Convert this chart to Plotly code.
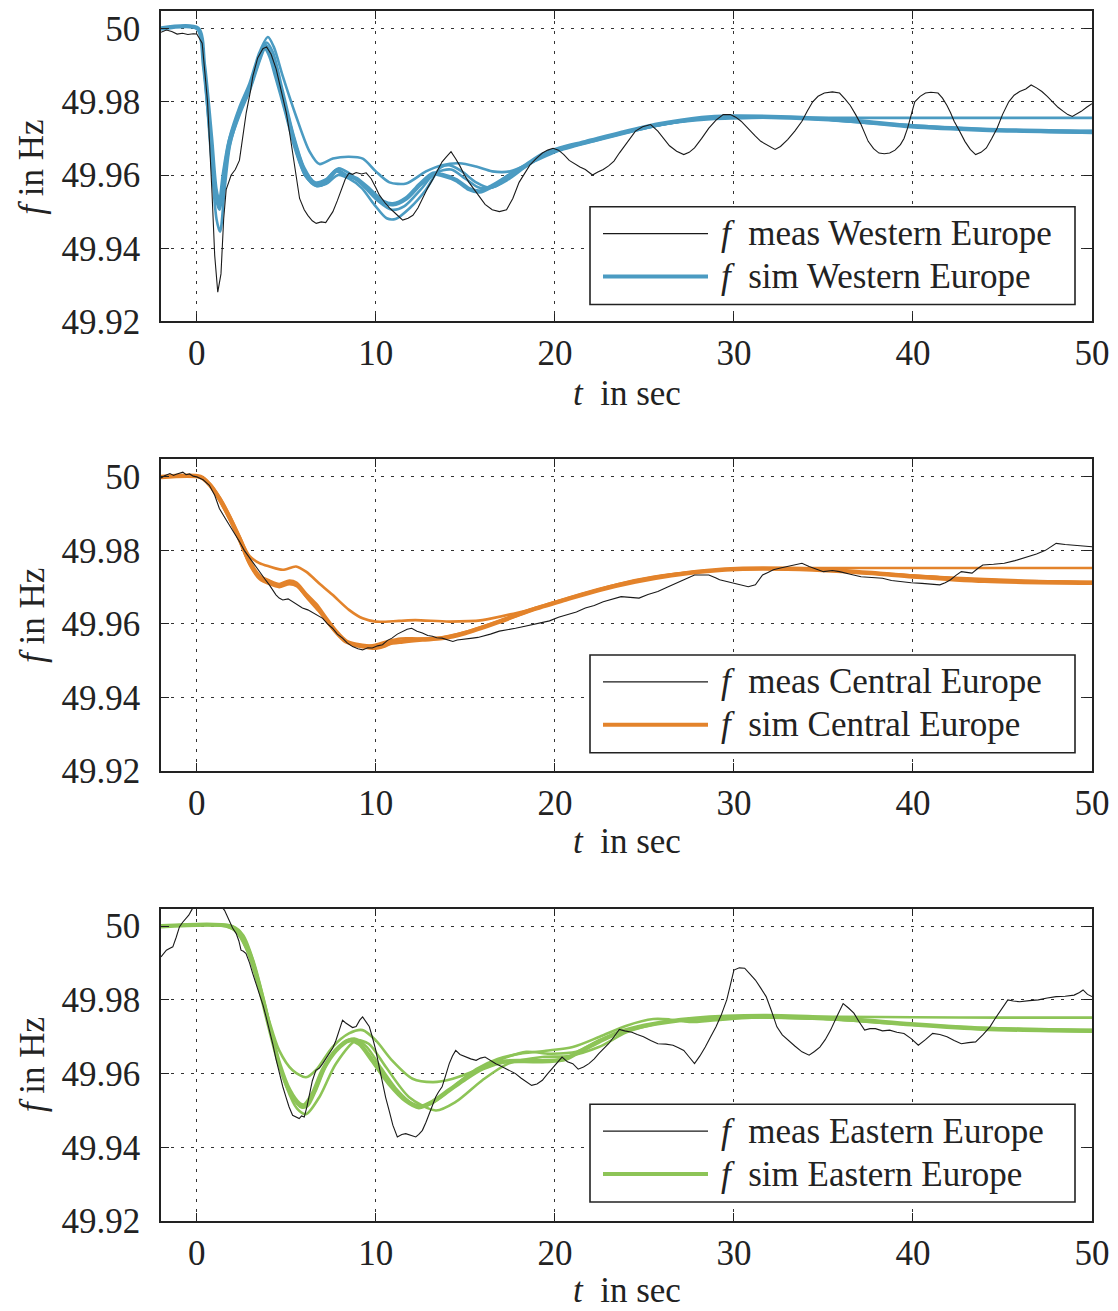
import plotly.graph_objects as go

# ---------------- data ----------------
x_ticks = [0, 10, 20, 30, 40, 50]
y_ticks = [49.92, 49.94, 49.96, 49.98, 50.0]
y_tick_labels = ["49.92", "49.94", "49.96", "49.98", "50"]

regions = ["Western Europe", "Central Europe", "Eastern Europe"]
sim_colors = ["#4b9bc2", "#e3832b", "#8dc457"]

# Western Europe measured
t_meas_w = [-2.0, -1.7, -1.4, -1.1, -0.8, -0.5, -0.2, 0.0, 0.3, 0.6, 0.85, 1.0, 1.17, 1.35, 1.5, 1.64, 1.92, 2.15,
            2.38, 2.6, 2.76, 3.0, 3.13, 3.4, 3.69, 3.9, 4.15, 4.43, 4.7, 5.0, 5.2, 5.36, 5.55, 5.74, 6.0, 6.2, 6.45,
            6.67, 6.95, 7.2, 7.4, 7.6, 7.85, 8.06, 8.3, 8.5, 8.7, 8.9, 9.2, 9.46, 9.74, 10.0, 10.2, 10.5, 10.76, 11.1,
            11.5, 11.8, 12.07, 12.35, 12.6, 12.9, 13.2, 13.45, 13.7, 13.95, 14.2, 14.45, 14.67, 14.95, 15.2, 15.5,
            15.8, 16.1, 16.5, 16.9, 17.3, 17.65, 18.0, 18.3, 18.6, 18.95, 19.3, 19.6, 19.9, 20.2, 20.5, 20.8, 21.1,
            21.4, 21.7, 22.1, 22.4, 22.7, 23.0, 23.3, 23.6, 23.9, 24.2, 24.5, 24.9, 25.35, 25.75, 26.1, 26.4, 26.8,
            27.2, 27.5, 27.8, 28.2, 28.6, 29.0, 29.4, 29.8, 30.1, 30.4, 30.8, 31.2, 31.5, 31.8, 32.3, 32.6, 33.0,
            33.4, 33.8, 34.1, 34.4, 34.7, 35.05, 35.5, 35.9, 36.2, 36.5, 36.8, 37.1, 37.5, 37.8, 38.1, 38.4, 38.7,
            39.0, 39.3, 39.5, 39.7, 39.9, 40.1, 40.4, 40.7, 41.0, 41.4, 41.65, 41.9, 42.1, 42.3, 42.6, 42.9, 43.2,
            43.5, 43.8, 44.1, 44.4, 44.7, 45.0, 45.35, 45.65, 45.96, 46.3, 46.6, 46.9, 47.2, 47.5, 47.8, 48.1, 48.4,
            48.65, 48.9, 49.15, 49.4, 49.7, 50.0]
f_meas_w = [49.9990, 49.9996, 49.9992, 49.9985, 49.9987, 49.9984, 49.9986, 49.9985, 49.9960, 49.9800, 49.9550,
            49.9380, 49.9280, 49.9330, 49.9480, 49.9560, 49.9600, 49.9615, 49.9640, 49.9720, 49.9770, 49.9830,
            49.9870, 49.9920, 49.9945, 49.9950, 49.9930, 49.9890, 49.9830, 49.9770, 49.9710, 49.9660, 49.9590,
            49.9536, 49.9505, 49.9490, 49.9475, 49.9468, 49.9472, 49.9470, 49.9485, 49.9500, 49.9530, 49.9560,
            49.9590, 49.9605, 49.9602, 49.9607, 49.9603, 49.9606, 49.9590, 49.9565, 49.9545, 49.9525, 49.9510,
            49.9495, 49.9477, 49.9482, 49.9490, 49.9510, 49.9536, 49.9565, 49.9590, 49.9615, 49.9636, 49.9650,
            49.9664, 49.9645, 49.9627, 49.9600, 49.9580, 49.9560, 49.9540, 49.9520, 49.9505, 49.9500, 49.9505,
            49.9536, 49.9580, 49.9605, 49.9627, 49.9645, 49.9660, 49.9668, 49.9673, 49.9668, 49.9656, 49.9640,
            49.9630, 49.9622, 49.9615, 49.9600, 49.9608, 49.9615, 49.9625, 49.9638, 49.9660, 49.9680, 49.9700,
            49.9720, 49.9732, 49.9738, 49.9720, 49.9698, 49.9680, 49.9665, 49.9656, 49.9662, 49.9674, 49.9700,
            49.9728, 49.9750, 49.9765, 49.9765, 49.9758, 49.9747, 49.9725, 49.9706, 49.9692, 49.9683, 49.9670,
            49.9678, 49.9697, 49.9720, 49.9747, 49.9775, 49.9800, 49.9815, 49.9824, 49.9827, 49.9824, 49.9808,
            49.9790, 49.9765, 49.9738, 49.9692, 49.9672, 49.9660, 49.9658, 49.9660, 49.9668, 49.9683, 49.9700,
            49.9728, 49.9765, 49.9800, 49.9815, 49.9824, 49.9826, 49.9824, 49.9810, 49.9790, 49.9770, 49.9747,
            49.9720, 49.9692, 49.9670, 49.9656, 49.9662, 49.9674, 49.9700, 49.9728, 49.9765, 49.9800, 49.9818,
            49.9828, 49.9835, 49.9846, 49.9838, 49.9828, 49.9815, 49.9800, 49.9785, 49.9774, 49.9765, 49.9760,
            49.9766, 49.9774, 49.9785, 49.9795]

# Western Europe simulated variants
t_sim_w1 = [-2, 0.05, 0.4, 0.8, 1.05, 1.27, 1.5, 1.82, 2.38, 2.94, 3.5, 3.8, 4.1, 4.43, 5.0, 5.55, 6.1, 6.67, 7.2,
            7.8, 8.34, 8.9, 9.65, 10.4, 10.95, 11.7, 12.44, 13.2, 13.7, 14.5, 15.2, 15.8, 16.5, 17.5, 18.4, 19.3,
            20.3, 21.7, 23.7, 25.75, 28.2, 29.8, 33.8, 36.9, 39.9, 43.9, 50]
f_sim_w1 = [50.0, 50.0, 49.9900, 49.9700, 49.9560, 49.9518, 49.9600, 49.9690, 49.9770, 49.9836, 49.9918, 49.9950,
            49.9925, 49.9870, 49.9770, 49.9670, 49.9600, 49.9573, 49.9580, 49.9612, 49.9598, 49.9590, 49.9560,
            49.9527, 49.9520, 49.9536, 49.9573, 49.9604, 49.9600, 49.9586, 49.9562, 49.9555, 49.9570, 49.9600,
            49.9627, 49.9655, 49.9673, 49.9690, 49.9715, 49.9738, 49.9756, 49.9760, 49.9756, 49.9747, 49.9733,
            49.9724, 49.9718]
t_sim_w2 = [-2, 0.05, 0.4, 0.8, 1.05, 1.27, 1.5, 1.82, 2.38, 2.94, 3.5, 3.97, 4.3, 4.8, 5.55, 6.3, 6.85, 7.6, 8.5,
            9.27, 10.0, 10.76, 11.7, 12.8, 13.7, 14.67, 15.6, 16.5, 17.5, 18.8, 20.1, 22, 24, 26, 28.5, 31, 35, 40,
            45, 50]
f_sim_w2 = [50.0, 50.0, 49.9900, 49.9700, 49.9565, 49.9522, 49.9605, 49.9700, 49.9785, 49.9850, 49.9935, 49.9977,
            49.9950, 49.9870, 49.9760, 49.9664, 49.9630, 49.9645, 49.9650, 49.9645, 49.9610, 49.9580, 49.9577,
            49.9610, 49.9627, 49.9632, 49.9623, 49.9610, 49.9610, 49.9636, 49.9664, 49.9690, 49.9715, 49.9738,
            49.9752, 49.9756, 49.9756, 49.9756, 49.9756, 49.9756]
t_sim_w3 = [-2, 0.05, 0.4, 0.8, 1.1, 1.3, 1.55, 1.85, 2.38, 2.94, 3.5, 3.85, 4.15, 4.5, 5.0, 5.55, 6.1, 6.67, 7.2,
            7.9, 8.5, 9.2, 9.9, 10.6, 11.1, 11.9, 12.8, 13.6, 14.1, 14.8, 15.6, 16.4, 17.3, 18.3, 19.3, 20.3, 22,
            24, 26, 28.5, 31, 35, 38, 42, 46, 50]
f_sim_w3 = [50.0, 50.0, 49.9890, 49.9650, 49.9480, 49.9445, 49.9560, 49.9680, 49.9768, 49.9832, 49.9915, 49.9955,
            49.9930, 49.9860, 49.9765, 49.9665, 49.9595, 49.9570, 49.9575, 49.9600, 49.9590, 49.9565, 49.9520,
            49.9482, 49.9480, 49.9510, 49.9560, 49.9620, 49.9627, 49.9610, 49.9580, 49.9565, 49.9585, 49.9620,
            49.9652, 49.9670, 49.9692, 49.9718, 49.9738, 49.9756, 49.9760, 49.9752, 49.9740, 49.9727, 49.9720,
            49.9715]
t_sim_w4 = [-2, 0.05, 0.4, 0.8, 1.05, 1.27, 1.5, 1.82, 2.38, 2.94, 3.5, 3.9, 4.25, 4.8, 5.4, 6.0, 6.6, 7.2, 7.9,
            8.5, 9.3, 10.1, 10.9, 11.6, 12.5, 13.3, 14.2, 15.0, 15.8, 16.6, 17.5, 18.5, 19.5, 21, 23, 25, 27.5, 30,
            34, 38, 42, 46, 50]
f_sim_w4 = [50.0, 50.0, 49.9895, 49.9680, 49.9540, 49.9505, 49.9590, 49.9690, 49.9772, 49.9840, 49.9925, 49.9962,
            49.9935, 49.9830, 49.9710, 49.9620, 49.9580, 49.9588, 49.9618, 49.9605, 49.9570, 49.9530, 49.9505,
            49.9515, 49.9560, 49.9605, 49.9615, 49.9590, 49.9565, 49.9568, 49.9595, 49.9630, 49.9658, 49.9682,
            49.9706, 49.9728, 49.9750, 49.9758, 49.9755, 49.9742, 49.9730, 49.9722, 49.9720]

# Central Europe measured
t_meas_c = [-2.0, -1.8, -1.5, -1.3, -1.15, -0.95, -0.78, -0.6, -0.4, -0.2, 0.0, 0.35, 0.7, 1.0, 1.26, 1.55, 1.82,
            2.1, 2.38, 2.65, 2.94, 3.2, 3.5, 3.8, 4.05, 4.25, 4.42, 4.6, 4.8, 5.1, 5.35, 5.6, 5.9, 6.2, 6.47, 6.75,
            7.03, 7.3, 7.58, 7.85, 8.14, 8.4, 8.7, 9.0, 9.26, 9.55, 9.8, 10.1, 10.37, 10.65, 10.9, 11.2, 11.5,
            11.75, 12.0, 12.3, 12.6, 12.9, 13.16, 13.4, 13.7, 14.0, 14.3, 14.55, 14.8, 15.1, 15.4, 15.7, 15.95,
            16.4, 16.9, 17.3, 17.8, 18.2, 18.7, 19.2, 19.7, 20.2, 20.7, 21.2, 21.7, 22.2, 22.7, 23.2, 23.7, 24.2,
            24.7, 25.2, 25.75, 26.3, 26.8, 27.3, 27.8, 28.2, 28.6, 29.0, 29.2, 29.6, 30.0, 30.4, 30.8, 31.2, 31.6,
            31.9, 32.2, 32.6, 33.0, 33.4, 33.8, 34.2, 34.6, 35.0, 35.5, 35.9, 36.5, 37.1, 37.7, 38.3, 38.8, 39.3,
            39.9, 40.5, 41.0, 41.5, 41.8, 42.1, 42.4, 42.7, 43.0, 43.3, 43.6, 43.9, 44.5, 45.1, 45.7, 46.4, 46.9,
            47.4, 47.7, 48.0, 48.5, 49.0, 49.5, 50.0]
f_meas_c = [49.9997, 50.0003, 50.0009, 50.0004, 50.0007, 50.0010, 50.0013, 50.0006, 50.0008, 50.0002, 50.0000,
            49.9992, 49.9977, 49.9950, 49.9914, 49.9890, 49.9869, 49.9845, 49.9824, 49.9800, 49.9780, 49.9760,
            49.9742, 49.9722, 49.9706, 49.9690, 49.9679, 49.9670, 49.9665, 49.9668, 49.9660, 49.9652, 49.9643,
            49.9638, 49.9630, 49.9622, 49.9615, 49.9600, 49.9588, 49.9572, 49.9561, 49.9548, 49.9538, 49.9532,
            49.9529, 49.9535, 49.9534, 49.9540, 49.9543, 49.9555, 49.9561, 49.9572, 49.9580, 49.9585, 49.9588,
            49.9580, 49.9575, 49.9568, 49.9566, 49.9562, 49.9561, 49.9556, 49.9552, 49.9556, 49.9557, 49.9558,
            49.9561, 49.9563, 49.9566, 49.9572, 49.9580, 49.9583, 49.9588, 49.9592, 49.9597, 49.9602, 49.9608,
            49.9618, 49.9626, 49.9632, 49.9643, 49.9650, 49.9660, 49.9668, 49.9674, 49.9672, 49.9670, 49.9680,
            49.9688, 49.9700, 49.9710, 49.9722, 49.9733, 49.9732, 49.9733, 49.9725, 49.9720, 49.9715, 49.9710,
            49.9705, 49.9701, 49.9706, 49.9733, 49.9740, 49.9747, 49.9752, 49.9756, 49.9760, 49.9765, 49.9756,
            49.9748, 49.9742, 49.9745, 49.9742, 49.9735, 49.9728, 49.9726, 49.9724, 49.9718, 49.9715, 49.9712,
            49.9710, 49.9708, 49.9706, 49.9712, 49.9720, 49.9732, 49.9742, 49.9740, 49.9738, 49.9750, 49.9760,
            49.9762, 49.9765, 49.9772, 49.9783, 49.9790, 49.9800, 49.9810, 49.9819, 49.9816, 49.9814, 49.9812,
            49.9810]

# Central Europe simulated variants
t_sim_c1 = [-2, 0.2, 0.7, 1.26, 1.82, 2.38, 2.94, 3.5, 4.05, 4.6, 5.17, 5.54, 6.1, 6.65, 7.2, 7.77, 8.33, 8.9, 9.6,
            10.2, 10.7, 11.5, 12.6, 13.7, 15, 16.9, 18.7, 20.6, 22.45, 24.5, 26.5, 28.5, 30.5, 33, 36, 38, 40, 44,
            50]
f_sim_c1 = [50.0, 50.0, 49.9980, 49.9941, 49.9891, 49.9833, 49.9769, 49.9729, 49.9715, 49.9706, 49.9715, 49.9710,
            49.9679, 49.9652, 49.9615, 49.9579, 49.9552, 49.9543, 49.9538, 49.9538, 49.9547, 49.9552, 49.9557,
            49.9561, 49.9575, 49.9606, 49.9638, 49.9666, 49.9692, 49.9715, 49.9732, 49.9744, 49.9750, 49.9750,
            49.9744, 49.9737, 49.9729, 49.9717, 49.9712]
t_sim_c2 = [-2, 0.2, 0.7, 1.26, 1.82, 2.38, 2.94, 3.5, 4.05, 4.8, 5.54, 6.1, 6.84, 7.58, 8.5, 9.26, 10.0, 11.3,
            12.2, 14.1, 15.95, 17.8, 19.7, 21.5, 23.5, 25.5, 28, 31, 35, 40, 45, 50]
f_sim_c2 = [50.0, 50.0, 49.9982, 49.9945, 49.9895, 49.9838, 49.9785, 49.9765, 49.9756, 49.9747, 49.9756, 49.9742,
            49.9710, 49.9679, 49.9638, 49.9615, 49.9606, 49.9608, 49.9610, 49.9606, 49.9610, 49.9629, 49.9652,
            49.9680, 49.9708, 49.9728, 49.9742, 49.9750, 49.9752, 49.9752, 49.9752, 49.9752]
t_sim_c3 = [-2, 0.2, 0.7, 1.26, 1.82, 2.38, 2.94, 3.5, 4.05, 4.6, 5.17, 5.6, 6.2, 6.8, 7.4, 8.0, 8.6, 9.3, 10.0,
            10.5, 11.0, 11.8, 12.8, 14.0, 15.5, 17.3, 19.2, 21, 23, 25, 27, 29, 32, 35, 38, 42, 46, 50]
f_sim_c3 = [50.0, 50.0, 49.9978, 49.9937, 49.9885, 49.9826, 49.9762, 49.9722, 49.9708, 49.9700, 49.9708, 49.9702,
            49.9668, 49.9635, 49.9598, 49.9565, 49.9545, 49.9536, 49.9532, 49.9538, 49.9550, 49.9555, 49.9558,
            49.9563, 49.9582, 49.9612, 49.9645, 49.9672, 49.9698, 49.9720, 49.9736, 49.9746, 49.9750, 49.9746,
            49.9738, 49.9726, 49.9718, 49.9714]
t_sim_c4 = [-2, 0.2, 0.7, 1.26, 1.82, 2.38, 2.94, 3.5, 4.05, 4.6, 5.2, 5.6, 6.1, 6.7, 7.3, 7.9, 8.5, 9.2, 9.9,
            10.6, 11.4, 12.4, 13.6, 15, 16.9, 18.7, 20.6, 22.5, 24.5, 26.5, 28.5, 31, 34, 37, 40, 44, 50]
f_sim_c4 = [50.0, 50.0, 49.9979, 49.9939, 49.9888, 49.9830, 49.9766, 49.9726, 49.9712, 49.9703, 49.9712, 49.9706,
            49.9676, 49.9645, 49.9605, 49.9570, 49.9548, 49.9540, 49.9542, 49.9552, 49.9560, 49.9560, 49.9562,
            49.9578, 49.9608, 49.9640, 49.9668, 49.9694, 49.9716, 49.9734, 49.9745, 49.9750, 49.9748, 49.9740,
            49.9731, 49.9720, 49.9713]

# Eastern Europe measured
t_meas_e = [-2.0, -1.85, -1.7, -1.5, -1.34, -1.15, -0.97, -0.8, -0.6, -0.45, -0.3, -0.1, 0.2, 0.6, 1.0, 1.3,
            1.55, 1.82, 2.0, 2.2, 2.35, 2.47, 2.6, 2.75, 2.95, 3.12, 3.3, 3.5, 3.7, 3.87, 4.05, 4.24, 4.42, 4.6, 4.8,
            4.98, 5.15, 5.35, 5.55, 5.72, 5.85, 6.0, 6.15, 6.28, 6.45, 6.65, 6.85, 7.03, 7.2, 7.4, 7.6, 7.77, 7.95,
            8.14, 8.3, 8.5, 8.7, 8.9, 9.1, 9.26, 9.45, 9.63, 9.8, 10.0, 10.2, 10.37, 10.55, 10.74, 10.95, 11.2,
            11.45, 11.67, 11.95, 12.23, 12.4, 12.6, 12.8, 12.97, 13.15, 13.35, 13.5, 13.7, 13.9, 14.1, 14.28, 14.46,
            14.7, 15.0, 15.3, 15.6, 15.85, 16.1, 16.4, 16.7, 17.0, 17.25, 17.5, 17.8, 18.1, 18.4, 18.7, 19.0, 19.3,
            19.6, 19.85, 20.1, 20.4, 20.7, 21.0, 21.3, 21.6, 21.9, 22.2, 22.45, 22.75, 23.0, 23.3, 23.6, 23.9,
            24.3, 24.6, 24.95, 25.35, 25.75, 26.2, 26.6, 26.9, 27.2, 27.5, 27.8, 28.1, 28.4, 28.7, 29.0, 29.3,
            29.6, 29.8, 30.0, 30.3, 30.6, 30.9, 31.2, 31.5, 31.8, 32.1, 32.4, 32.7, 33.0, 33.4, 33.8, 34.2, 34.5,
            34.8, 35.1, 35.4, 35.75, 36.1, 36.4, 36.7, 37.0, 37.3, 37.6, 37.9, 38.3, 38.7, 39.1, 39.5, 39.9, 40.3,
            40.7, 41.1, 41.5, 41.9, 42.3, 42.7, 43.1, 43.5, 43.9, 44.3, 44.6, 44.9, 45.3, 45.6, 45.96, 46.5, 47.0,
            47.5, 48.0, 48.5, 49.0, 49.3, 49.5, 49.75, 50.0]
f_meas_e = [49.9917, 49.9925, 49.9935, 49.9940, 49.9944, 49.9970, 49.9998, 50.0010, 50.0020, 50.0030, 50.0043,
            50.0060, 50.0072, 50.0078, 50.0070, 50.0058, 50.0043, 50.0016, 49.9995, 49.9980, 49.9960, 49.9935,
            49.9932, 49.9926, 49.9900, 49.9872, 49.9845, 49.9817, 49.9785, 49.9754, 49.9720, 49.9681, 49.9640,
            49.9600, 49.9565, 49.9536, 49.9510, 49.9487, 49.9482, 49.9478, 49.9485, 49.9482, 49.9510, 49.9545,
            49.9580, 49.9609, 49.9615, 49.9627, 49.9640, 49.9654, 49.9670, 49.9690, 49.9720, 49.9745, 49.9738,
            49.9731, 49.9725, 49.9728, 49.9745, 49.9754, 49.9740, 49.9728, 49.9700, 49.9663, 49.9615, 49.9573,
            49.9535, 49.9500, 49.9460, 49.9428, 49.9435, 49.9437, 49.9432, 49.9428, 49.9435, 49.9446, 49.9468,
            49.9491, 49.9515, 49.9537, 49.9550, 49.9564, 49.9595, 49.9627, 49.9648, 49.9663, 49.9652, 49.9645,
            49.9640, 49.9636, 49.9642, 49.9645, 49.9635, 49.9627, 49.9620, 49.9614, 49.9608, 49.9600, 49.9588,
            49.9577, 49.9568, 49.9572, 49.9582, 49.9600, 49.9614, 49.9630, 49.9645, 49.9632, 49.9627, 49.9612,
            49.9618, 49.9627, 49.9640, 49.9654, 49.9668, 49.9681, 49.9700, 49.9720, 49.9716, 49.9712, 49.9706,
            49.9700, 49.9690, 49.9681, 49.9680, 49.9677, 49.9670, 49.9663, 49.9645, 49.9627, 49.9648, 49.9672,
            49.9700, 49.9727, 49.9760, 49.9800, 49.9840, 49.9881, 49.9887, 49.9886, 49.9870, 49.9854, 49.9832,
            49.9809, 49.9770, 49.9727, 49.9705, 49.9691, 49.9675, 49.9659, 49.9650, 49.9660, 49.9672, 49.9692,
            49.9718, 49.9755, 49.9790, 49.9778, 49.9764, 49.9740, 49.9718, 49.9722, 49.9722, 49.9716, 49.9718,
            49.9712, 49.9709, 49.9695, 49.9677, 49.9692, 49.9709, 49.9706, 49.9700, 49.9690, 49.9681, 49.9684,
            49.9686, 49.9705, 49.9727, 49.9750, 49.9772, 49.9800, 49.9797, 49.9795, 49.9798, 49.9800, 49.9805,
            49.9809, 49.9810, 49.9813, 49.9820, 49.9827, 49.9815, 49.9809]

# Eastern Europe simulated variants
t_sim_e1 = [-2, 1.8, 2.38, 2.94, 3.5, 4.05, 4.6, 5.17, 5.72, 6.0, 6.47, 7.03, 7.77, 8.5, 9.07, 9.8, 10.74, 11.67,
            12.4, 13.16, 14.1, 15, 15.95, 17.1, 18.2, 19.7, 20.6, 21.5, 22.5, 23.5, 25, 27.8, 31.8, 35.9, 39.9,
            43.9, 50]
f_sim_e1 = [50.0, 50.0, 49.9980, 49.9926, 49.9835, 49.9727, 49.9627, 49.9555, 49.9518, 49.9514, 49.9545, 49.9609,
            49.9663, 49.9690, 49.9681, 49.9636, 49.9573, 49.9527, 49.9509, 49.9523, 49.9555, 49.9586, 49.9614,
            49.9632, 49.9634, 49.9634, 49.9640, 49.9663, 49.9688, 49.9710, 49.9730, 49.9749, 49.9756, 49.9749,
            49.9734, 49.9722, 49.9716]
t_sim_e2 = [-2, 1.6, 2.2, 2.8, 3.4, 4.0, 4.6, 5.35, 6.1, 6.65, 7.58, 8.5, 9.26, 10.0, 10.9, 12.05, 13.2, 14.3,
            15.6, 17.1, 18.4, 19.7, 21.2, 22.45, 23.75, 25.5, 28, 32, 36, 40, 45, 50]
f_sim_e2 = [50.0, 50.0, 49.9985, 49.9935, 49.9850, 49.9750, 49.9663, 49.9609, 49.9590, 49.9609, 49.9672, 49.9709,
            49.9718, 49.9690, 49.9636, 49.9586, 49.9577, 49.9586, 49.9609, 49.9641, 49.9659, 49.9654, 49.9659,
            49.9690, 49.9713, 49.9735, 49.9750, 49.9754, 49.9754, 49.9753, 49.9752, 49.9752]
t_sim_e3 = [-2, 2.0, 2.6, 3.2, 3.8, 4.4, 5.0, 5.6, 6.1, 6.84, 7.77, 8.9, 9.6, 10.56, 11.86, 13.35, 14.46, 15.95,
            17.4, 19.3, 20.8, 22.45, 24, 26, 28, 32, 36, 40, 44, 50]
f_sim_e3 = [50.0, 50.0, 49.9975, 49.9900, 49.9790, 49.9665, 49.9565, 49.9505, 49.9490, 49.9536, 49.9627, 49.9690,
            49.9681, 49.9618, 49.9536, 49.9500, 49.9523, 49.9582, 49.9627, 49.9645, 49.9648, 49.9672, 49.9712,
            49.9738, 49.9748, 49.9752, 49.9746, 49.9733, 49.9722, 49.9715]
t_sim_e4 = [-2, 1.9, 2.5, 3.05, 3.6, 4.15, 4.7, 5.3, 5.85, 6.2, 6.7, 7.3, 8.1, 8.8, 9.5, 10.3, 11.2, 12.0, 12.8,
            13.6, 14.6, 15.6, 16.8, 18.2, 19.5, 21, 22.5, 24, 25.5, 26.4, 27.5, 29, 31, 35, 39, 44, 50]
f_sim_e4 = [50.0, 50.0, 49.9978, 49.9918, 49.9822, 49.9710, 49.9612, 49.9540, 49.9508, 49.9512, 49.9560, 49.9630,
            49.9680, 49.9695, 49.9672, 49.9615, 49.9555, 49.9520, 49.9512, 49.9535, 49.9575, 49.9612, 49.9640,
            49.9655, 49.9662, 49.9672, 49.9700, 49.9730, 49.9748, 49.9747, 49.9740, 49.9745, 49.9752, 49.9748,
            49.9736, 49.9724, 49.9718]

meas_series = [(t_meas_w, f_meas_w), (t_meas_c, f_meas_c), (t_meas_e, f_meas_e)]
sim_series = [
    [(t_sim_w2, f_sim_w2), (t_sim_w3, f_sim_w3), (t_sim_w4, f_sim_w4), (t_sim_w1, f_sim_w1)],
    [(t_sim_c2, f_sim_c2), (t_sim_c3, f_sim_c3), (t_sim_c4, f_sim_c4), (t_sim_c1, f_sim_c1)],
    [(t_sim_e2, f_sim_e2), (t_sim_e3, f_sim_e3), (t_sim_e4, f_sim_e4), (t_sim_e1, f_sim_e1)],
]

# ---------------- layout helpers ----------------
# The page adds an 8 px body margin, so the figure sits at (8, 8) in the window.
OFF = 8
W, H = 1118 - OFF, 1311 - OFF
PLOT_L, PLOT_R, PLOT_T, PLOT_B = 161, 1092, 9, 1221   # window pixels of the plotting region
ML = PLOT_L - OFF
MR = W - (PLOT_R - OFF)
MT = PLOT_T - OFF
MB = H - (PLOT_B - OFF)
PW = PLOT_R - PLOT_L
PH = PLOT_B - PLOT_T


def px(x):
    return (x - PLOT_L) / PW


def py(y):
    return (PLOT_B - y) / PH


panel_tops = [9, 458, 908]
panel_bottoms = [320, 770, 1221]
FONT = "'Liberation Serif', 'Times New Roman', Times, 'DejaVu Serif', serif"
FS = 35

fig = go.Figure()
shapes = []
annotations = []

for i in range(3):
    xa = "x" if i == 0 else f"x{i+1}"
    ya = "y" if i == 0 else f"y{i+1}"
    tm, fm = meas_series[i]
    for k, (ts, fs) in enumerate(sim_series[i]):
        fig.add_trace(go.Scatter(
            x=ts, y=fs, mode="lines", xaxis=xa, yaxis=ya, showlegend=False,
            line=dict(color=sim_colors[i], width=4.5 if k == 3 else 2.6, shape="spline", smoothing=0.8),
            hoverinfo="skip"))
    fig.add_trace(go.Scatter(
        x=tm, y=fm, mode="lines", xaxis=xa, yaxis=ya, showlegend=False,
        line=dict(color="#1a1a1a", width=1.1), hoverinfo="skip"))

    dom_y = [py(panel_bottoms[i]), py(panel_tops[i])]
    axis_common = dict(
        showline=True, linecolor="#222", linewidth=1.6, mirror="ticks",
        ticks="inside", ticklen=8, tickwidth=1.4, tickcolor="#222",
        showgrid=True, gridcolor="#333", gridwidth=1.1, griddash="3px,7px",
        zeroline=False,
        tickfont=dict(family=FONT, size=FS, color="#222"),
    )
    xkey = "xaxis" if i == 0 else f"xaxis{i+1}"
    ykey = "yaxis" if i == 0 else f"yaxis{i+1}"
    fig.update_layout(**{
        xkey: dict(domain=[0, 1], anchor=ya, range=[-2, 50], tickvals=x_ticks,
                   ticklabelstandoff=0, **axis_common),
        ykey: dict(domain=dom_y, anchor=xa, range=[49.92, 50.0048], tickvals=y_ticks,
                   ticktext=y_tick_labels, ticklabelstandoff=12, **axis_common),
    })

    off = panel_tops[i] - 9
    # axis titles
    annotations.append(dict(
        x=0.5, y=py(392 + off), xref="paper", yref="paper", showarrow=False,
        xanchor="center", yanchor="middle",
        text="<i>t</i>&nbsp;&nbsp;in sec", font=dict(family=FONT, size=FS, color="#222")))
    annotations.append(dict(
        x=px(32), y=py(166 + off), xref="paper", yref="paper", showarrow=False,
        xanchor="center", yanchor="middle", textangle=-90,
        text="<i>f</i>&nbsp;in Hz", font=dict(family=FONT, size=FS, color="#222")))

    # legend box
    shapes.append(dict(type="rect", xref="paper", yref="paper",
                       x0=px(590), x1=px(1075), y0=py(303 + off), y1=py(205 + off),
                       line=dict(color="#222", width=1.6), fillcolor="white", layer="above"))
    shapes.append(dict(type="line", xref="paper", yref="paper",
                       x0=px(603), x1=px(708), y0=py(232 + off), y1=py(232 + off),
                       line=dict(color="#1a1a1a", width=1.2), layer="above"))
    shapes.append(dict(type="line", xref="paper", yref="paper",
                       x0=px(603), x1=px(708), y0=py(275 + off), y1=py(275 + off),
                       line=dict(color=sim_colors[i], width=4), layer="above"))
    annotations.append(dict(
        x=px(719), y=py(232 + off), xref="paper", yref="paper", showarrow=False,
        xanchor="left", yanchor="middle",
        text=f"<i>f</i>&nbsp;&nbsp;meas {regions[i]}", font=dict(family=FONT, size=FS, color="#222")))
    annotations.append(dict(
        x=px(719), y=py(275 + off), xref="paper", yref="paper", showarrow=False,
        xanchor="left", yanchor="middle",
        text=f"<i>f</i>&nbsp;&nbsp;sim {regions[i]}", font=dict(family=FONT, size=FS, color="#222")))

fig.update_layout(
    width=W, height=H,
    margin=dict(l=ML, r=MR, t=MT, b=MB),
    paper_bgcolor="white", plot_bgcolor="white",
    shapes=shapes, annotations=annotations,
    showlegend=False,
)

fig.write_html("out.html")
